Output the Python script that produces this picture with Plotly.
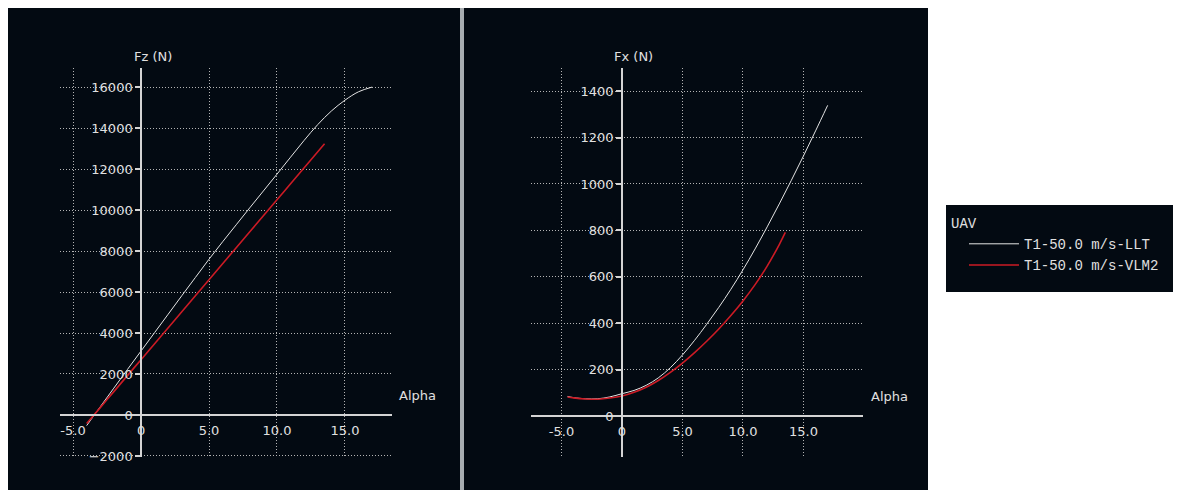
import plotly.graph_objects as go

# ---------------- data ----------------
alpha_fz_llt = [-4, -3, -2, -1, 0, 1, 2, 3, 4, 5, 6, 7, 8, 9, 10, 11, 12, 13, 14, 15, 16, 17]
fz_llt = [-520, 400, 1310, 2220, 3120, 4020, 4920, 5820, 6710, 7600, 8450, 9280, 10110,
          10930, 11750, 12580, 13400, 14170, 14830, 15360, 15770, 16000]

alpha_fz_vlm = [-4, -3, -2, -1, 0, 1, 2, 3, 4, 5, 6, 7, 8, 9, 10, 11, 12, 13, 13.5]
fz_vlm = [-420, 360, 1140, 1920, 2700, 3480, 4260, 5040, 5820, 6600, 7380, 8160, 8940,
          9720, 10500, 11280, 12060, 12840, 13230]

alpha_fx_llt = [-4.5, -4, -3, -2, -1, 0, 1, 2, 3, 4, 5, 6, 7, 8, 9, 10, 11, 12, 13, 14, 15, 16, 17]
fx_llt = [84, 79, 74, 74, 82, 96, 110, 132, 164, 208, 263, 326, 395, 468, 546, 630, 720,
          815, 914, 1016, 1121, 1229, 1339]

alpha_fx_vlm = [-4.5, -4, -3, -2, -1, 0, 1, 2, 3, 4, 5, 6, 7, 8, 9, 10, 11, 12, 13, 13.5]
fx_vlm = [82, 78, 73, 72, 77, 86, 102, 124, 153, 188, 228, 273, 322, 375, 433, 496, 566,
          646, 739, 791]

series_names = ["T1-50.0 m/s-LLT", "T1-50.0 m/s-VLM2"]
legend_title = "UAV"

x_tickvals = [-5, 0, 5, 10, 15]
x_ticktext = ["-5.0", "0", "5.0", "10.0", "15.0"]
fz_tickvals = [-2000, 0, 2000, 4000, 6000, 8000, 10000, 12000, 14000, 16000]
fx_tickvals = [0, 200, 400, 600, 800, 1000, 1200, 1400]

# ---------------- layout geometry ----------------
# figure fills the whole viewport; positions below are given in picture pixels
W, H = 1181, 497
PIC_W, PIC_H = 1181, 490


def fx_(px):
    return px / PIC_W


def fy_(py):
    return 1 - py / PIC_H


BG = "#030a12"
TXT = "#e0e0e0"
GRID = "#b4b4b4"
AX = "#d4d4d4"
WHITE_LINE = "#e4e4e4"
RED_LINE = "#cc1b25"
FONT = "DejaVu Sans"

x1_range = [-5.96, 18.46]
y1_range = [-2050, 16930]
x2_range = [-7.52, 19.92]
y2_range = [-177, 1500]

x1_dom = [fx_(60), fx_(392)]
x2_dom = [fx_(531), fx_(863)]
y_dom = [fy_(457), fy_(68)]


def zero_pos(rng, dom):
    return dom[0] + (0 - rng[0]) / (rng[1] - rng[0]) * (dom[1] - dom[0])


fig = go.Figure()

fig.add_trace(go.Scatter(x=alpha_fz_llt, y=fz_llt, mode="lines", name=series_names[0],
                         line=dict(color=WHITE_LINE, width=1, shape="spline"),
                         legendgroup="llt", xaxis="x", yaxis="y"))
fig.add_trace(go.Scatter(x=alpha_fz_vlm, y=fz_vlm, mode="lines", name=series_names[1],
                         line=dict(color=RED_LINE, width=1.6, shape="spline"),
                         legendgroup="vlm", xaxis="x", yaxis="y"))
fig.add_trace(go.Scatter(x=alpha_fx_llt, y=fx_llt, mode="lines", name=series_names[0],
                         line=dict(color=WHITE_LINE, width=1, shape="spline"),
                         legendgroup="llt", showlegend=False, xaxis="x2", yaxis="y2"))
fig.add_trace(go.Scatter(x=alpha_fx_vlm, y=fx_vlm, mode="lines", name=series_names[1],
                         line=dict(color=RED_LINE, width=1.6, shape="spline"),
                         legendgroup="vlm", showlegend=False, xaxis="x2", yaxis="y2"))

tickfont = dict(family=FONT, size=13, color=TXT)
DOTS = "1px,2px"

common_x = dict(showgrid=True, gridcolor=GRID, griddash=DOTS, gridwidth=1,
                zeroline=False, showline=True, linecolor=AX, linewidth=1.5,
                ticks="", tickfont=tickfont, tickvals=x_tickvals, ticktext=x_ticktext,
                ticklabelstandoff=4, anchor="free", fixedrange=True)
common_y = dict(showgrid=True, gridcolor=GRID, griddash=DOTS, gridwidth=1,
                zeroline=False, showline=True, linecolor=AX, linewidth=1.5,
                ticks="outside", ticklen=5, tickcolor=AX, tickwidth=1.5,
                tickformat="d", tickfont=tickfont, anchor="free", fixedrange=True)

fig.update_layout(
    width=W, height=H, autosize=False,
    margin=dict(l=0, r=0, t=0, b=0, pad=0),
    paper_bgcolor="white", plot_bgcolor="rgba(0,0,0,0)",
    xaxis=dict(common_x, domain=x1_dom, range=x1_range,
               position=zero_pos(y1_range, y_dom)),
    yaxis=dict(common_y, domain=y_dom, range=y1_range, tickvals=fz_tickvals,
               position=zero_pos(x1_range, x1_dom)),
    xaxis2=dict(common_x, domain=x2_dom, range=x2_range,
                position=zero_pos(y2_range, y_dom)),
    yaxis2=dict(common_y, domain=y_dom, range=y2_range, tickvals=fx_tickvals,
                position=zero_pos(x2_range, x2_dom)),
    showlegend=True,
    legend=dict(x=fx_(949), y=fy_(210), xanchor="left", yanchor="top",
                bgcolor="rgba(0,0,0,0)", borderwidth=0, indentation=15,
                itemwidth=50,
                font=dict(family="Liberation Mono", size=14, color=TXT),
                title=dict(text=legend_title, side="top",
                           font=dict(family="Liberation Mono", size=14, color=TXT)),
                tracegroupgap=0),
)

shapes = [
    dict(type="rect", xref="paper", yref="paper", x0=fx_(8), x1=fx_(460),
         y0=0, y1=fy_(8), fillcolor=BG, line=dict(width=0), layer="below"),
    dict(type="rect", xref="paper", yref="paper", x0=fx_(464), x1=fx_(928),
         y0=0, y1=fy_(8), fillcolor=BG, line=dict(width=0), layer="below"),
    dict(type="rect", xref="paper", yref="paper", x0=fx_(460), x1=fx_(464),
         y0=0, y1=fy_(8), fillcolor="#a7acb0", line=dict(width=0), layer="below"),
    dict(type="rect", xref="paper", yref="paper", x0=fx_(946), x1=fx_(1173),
         y0=fy_(292), y1=fy_(205), fillcolor=BG, line=dict(width=0), layer="below"),
]
fig.update_layout(shapes=shapes)

annfont = dict(family=FONT, size=13, color=TXT)
fig.update_layout(annotations=[
    dict(text="Fz (N)", xref="x", x=0, xshift=12, xanchor="center",
         yref="paper", y=fy_(56), yanchor="middle", showarrow=False, font=annfont),
    dict(text="Alpha", xref="x domain", x=1, xshift=5, xanchor="left",
         yref="y", y=0, yshift=19, yanchor="middle", showarrow=False, font=annfont),
    dict(text="Fx (N)", xref="x2", x=0, xshift=12, xanchor="center",
         yref="paper", y=fy_(56), yanchor="middle", showarrow=False, font=annfont),
    dict(text="Alpha", xref="x2 domain", x=1, xshift=6, xanchor="left",
         yref="y2", y=0, yshift=19, yanchor="middle", showarrow=False, font=annfont),
])

fig.write_html("out.html", config={"displayModeBar": False},
               post_script="document.body.style.margin='0';"
                           "document.body.style.overflow='hidden';")
